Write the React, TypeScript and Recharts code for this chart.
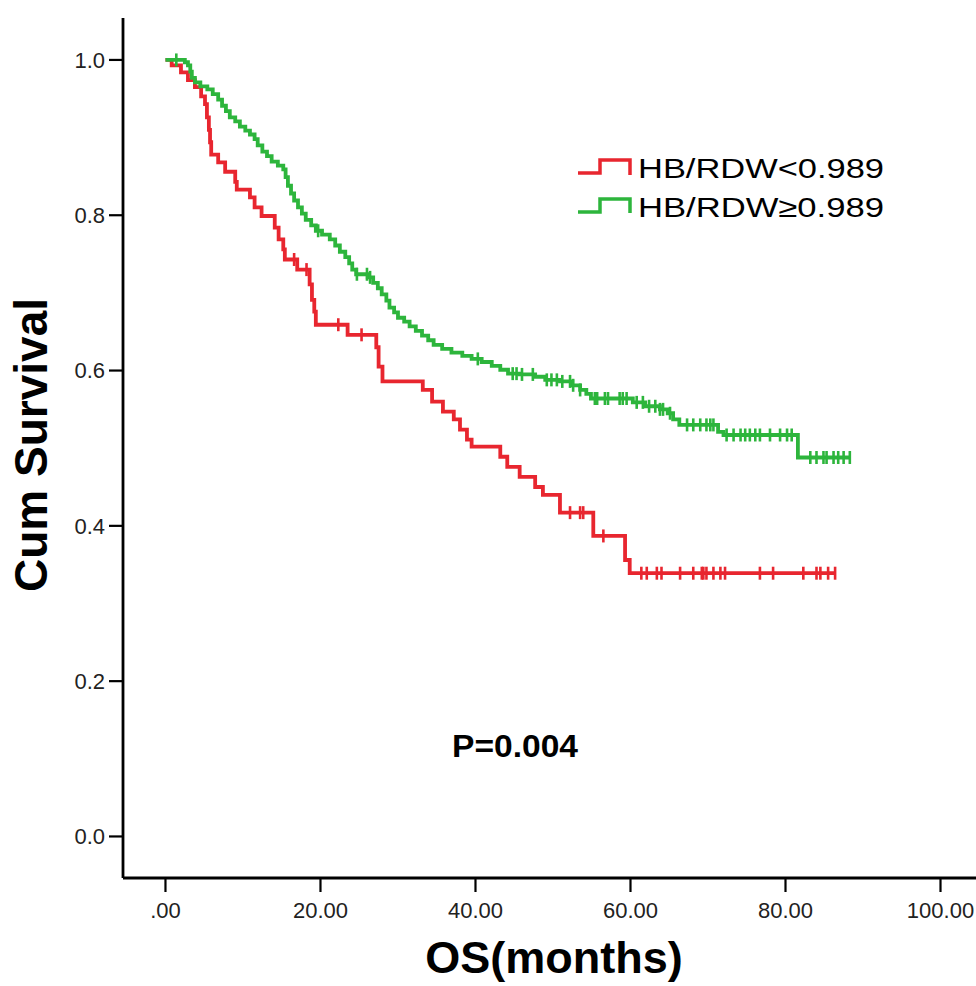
import React from 'react';
import { ComposedChart, Line, XAxis, YAxis } from 'recharts';

// ---- Data ----
const redTimes = [0, 0.8, 2.0, 2.9, 3.8, 4.6, 5.1, 5.35, 5.6, 5.75, 5.9, 6.8, 7.7, 9.0, 9.2, 10.9, 11.5, 12.4, 14.1, 14.6, 15.2, 15.4, 17.0, 18.6, 18.9, 19.2, 19.4, 23.5, 27.2, 27.5, 28.0, 33.2, 34.4, 35.8, 37.2, 38.0, 38.9, 39.5, 43.2, 44.1, 45.7, 47.7, 48.7, 50.9, 55.2, 59.3, 59.9, 86.4];
const redSurv = [1.0, 0.993, 0.984, 0.974, 0.965, 0.953, 0.943, 0.926, 0.91, 0.894, 0.878, 0.868, 0.856, 0.843, 0.833, 0.823, 0.81, 0.799, 0.784, 0.769, 0.756, 0.743, 0.73, 0.711, 0.691, 0.676, 0.659, 0.646, 0.63, 0.605, 0.586, 0.575, 0.56, 0.547, 0.537, 0.524, 0.511, 0.502, 0.489, 0.476, 0.463, 0.45, 0.44, 0.417, 0.387, 0.356, 0.339, 0.339];

const greenTimes = [0, 2.5, 2.9, 3.2, 3.4, 3.8, 4.5, 5.4, 6.1, 6.8, 7.3, 7.8, 8.3, 9.0, 9.6, 10.3, 10.9, 11.5, 11.9, 12.5, 13.1, 13.7, 14.5, 15.2, 15.5, 15.8, 16.2, 16.6, 17.1, 17.6, 18.1, 18.8, 19.4, 20.2, 21.2, 21.9, 22.5, 23.2, 23.7, 24.1, 24.6, 26.1, 26.8, 27.4, 27.9, 28.5, 28.9, 29.5, 30.0, 30.8, 31.5, 32.3, 33.1, 33.9, 34.6, 35.7, 36.9, 38.3, 39.5, 40.8, 42.1, 43.2, 44.2, 45.7, 47.7, 49.0, 50.9, 52.5, 53.5, 54.3, 54.9, 60.3, 61.9, 63.8, 64.8, 65.5, 66.3, 71.3, 72.0, 81.6, 88.3];
const greenSurv = [1.0, 0.997, 0.993, 0.985, 0.977, 0.971, 0.966, 0.962, 0.956, 0.949, 0.941, 0.934, 0.926, 0.921, 0.914, 0.909, 0.904, 0.898, 0.89, 0.882, 0.876, 0.869, 0.864, 0.859, 0.849, 0.838, 0.828, 0.819, 0.81, 0.802, 0.794, 0.787, 0.78, 0.775, 0.769, 0.761, 0.753, 0.746, 0.738, 0.73, 0.724, 0.72, 0.713, 0.706, 0.698, 0.69, 0.681, 0.675, 0.668, 0.663, 0.657, 0.651, 0.645, 0.639, 0.633, 0.628, 0.623, 0.619, 0.615, 0.611, 0.606, 0.601, 0.596, 0.595, 0.592, 0.588, 0.586, 0.581, 0.575, 0.57, 0.564, 0.559, 0.554, 0.55, 0.545, 0.537, 0.53, 0.521, 0.517, 0.488, 0.488];

const redCensorTimes = [16.6, 18.2, 22.3, 25.3, 52.2, 53.5, 53.9, 56.5, 61.4, 62.1, 63.4, 64.0, 66.4, 68.1, 69.2, 69.4, 69.8, 70.7, 71.6, 72.2, 76.7, 78.4, 82.3, 84.0, 84.5, 85.5, 86.4];
const greenCensorTimes = [1.4, 19.7, 24.7, 26.0, 26.4, 40.3, 44.8, 45.3, 46.0, 47.4, 49.2, 49.8, 50.5, 51.2, 52.2, 52.6, 53.5, 55.4, 55.7, 56.7, 57.1, 58.6, 59.0, 59.5, 60.8, 61.6, 62.4, 63.2, 63.8, 64.2, 65.1, 67.3, 68.1, 69.0, 69.8, 70.3, 70.7, 72.4, 73.3, 74.2, 74.8, 75.4, 76.1, 76.7, 78.0, 79.3, 80.2, 80.8, 83.2, 84.0, 84.9, 85.3, 86.2, 86.8, 87.5, 88.3];

const xTicks = [0, 20, 40, 60, 80, 100];
const xTickLabels = ['.00', '20.00', '40.00', '60.00', '80.00', '100.00'];
const yTicks = [0, 0.2, 0.4, 0.6, 0.8, 1.0];
const yTickLabels = ['0.0', '0.2', '0.4', '0.6', '0.8', '1.0'];
const seriesNames = ['HB/RDW<0.989', 'HB/RDW\u22650.989'];
const pValueText = 'P=0.004';
const xTitle = 'OS(months)';
const yTitle = 'Cum Survival';

// ---- Styling ----
const RED = '#E8262F';
const GREEN = '#2DB53C';
const FONT = '"Liberation Sans", Arial, Helvetica, sans-serif';

function toSteps(times: number[], surv: number[]) {
  return times.map((t, i) => ({ t, s: surv[i] }));
}

function censorPoints(ct: number[], times: number[], surv: number[]) {
  return ct.map((c) => {
    let s = surv[0];
    for (let i = 0; i < times.length; i++) {
      if (times[i] <= c) s = surv[i];
    }
    return { t: c, s };
  });
}

const redData = toSteps(redTimes, redSurv);
const greenData = toSteps(greenTimes, greenSurv);
const redCensor = censorPoints(redCensorTimes, redTimes, redSurv);
const greenCensor = censorPoints(greenCensorTimes, greenTimes, greenSurv);

const makeTickMark = (color: string) => (p: any) => {
  const { cx, cy, index } = p;
  if (cx == null || cy == null) return <g key={`e${index}`} />;
  return (
    <line
      key={`c${index}`}
      x1={cx}
      x2={cx}
      y1={cy - 6.5}
      y2={cy + 6.5}
      stroke={color}
      strokeWidth={2.6}
    />
  );
};

export default function App() {
  return (
    <div style={{ position: 'absolute', left: 0, top: 0, width: 976, height: 986, background: '#fff' }}>
      <ComposedChart width={976} height={986} margin={{ top: 18, right: 0, bottom: 78, left: 63 }}>
        <XAxis
          type="number"
          dataKey="t"
          domain={[-5.48, 104.58]}
          allowDataOverflow
          ticks={xTicks}
          interval={0}
          tickFormatter={(v: number) => xTickLabels[xTicks.indexOf(v)] ?? String(v)}
          height={30}
          axisLine={{ stroke: '#000', strokeWidth: 2.8 }}
          tickLine={{ stroke: '#000', strokeWidth: 2.2 }}
          tickSize={14}
          tickMargin={10}
          tick={{ fill: '#222', fontSize: 22, fontFamily: FONT }}
        />
        <YAxis
          type="number"
          domain={[-0.0535, 1.054]}
          allowDataOverflow
          ticks={yTicks}
          interval={0}
          tickFormatter={(v: number) => yTickLabels[yTicks.indexOf(v)] ?? String(v)}
          width={60}
          axisLine={{ stroke: '#000', strokeWidth: 2.8 }}
          tickLine={{ stroke: '#000', strokeWidth: 2.2 }}
          tickSize={14}
          tickMargin={4}
          tick={{ fill: '#222', fontSize: 22, fontFamily: FONT }}
        />
        <Line
          data={redData}
          dataKey="s"
          type="stepAfter"
          stroke={RED}
          strokeWidth={3.8}
          dot={false}
          activeDot={false}
          isAnimationActive={false}
        />
        <Line
          data={greenData}
          dataKey="s"
          type="stepAfter"
          stroke={GREEN}
          strokeWidth={3.8}
          dot={false}
          activeDot={false}
          isAnimationActive={false}
        />
        <Line
          data={redCensor}
          dataKey="s"
          stroke="none"
          strokeWidth={0}
          dot={makeTickMark(RED)}
          activeDot={false}
          isAnimationActive={false}
        />
        <Line
          data={greenCensor}
          dataKey="s"
          stroke="none"
          strokeWidth={0}
          dot={makeTickMark(GREEN)}
          activeDot={false}
          isAnimationActive={false}
        />
        <g>
          <text
            x={47}
            y={445}
            transform="rotate(-90 47 445)"
            textAnchor="middle"
            fontSize={46}
            fontWeight="bold"
            fontFamily={FONT}
            fill="#000"
          >
            {yTitle}
          </text>
          <text x={554} y={973} textAnchor="middle" fontSize={45} fontWeight="bold" fontFamily={FONT} fill="#000">
            {xTitle}
          </text>
          <text
            x={452}
            y={757}
            fontSize={31}
            fontWeight="bold"
            fontFamily={FONT}
            fill="#000"
            textLength={126}
            lengthAdjust="spacingAndGlyphs"
          >
            {pValueText}
          </text>
          <polyline points="578,173 600,173 600,160 630,160 630,175" fill="none" stroke={RED} strokeWidth={3.5} />
          <text
            x={638}
            y={178}
            fontSize={28}
            fontFamily={FONT}
            fill="#000"
            textLength={246}
            lengthAdjust="spacingAndGlyphs"
          >
            {seriesNames[0]}
          </text>
          <polyline points="578,212 600,212 600,199 630,199 630,213" fill="none" stroke={GREEN} strokeWidth={3.5} />
          <text
            x={638}
            y={217}
            fontSize={28}
            fontFamily={FONT}
            fill="#000"
            textLength={246}
            lengthAdjust="spacingAndGlyphs"
          >
            {seriesNames[1]}
          </text>
        </g>
      </ComposedChart>
    </div>
  );
}
